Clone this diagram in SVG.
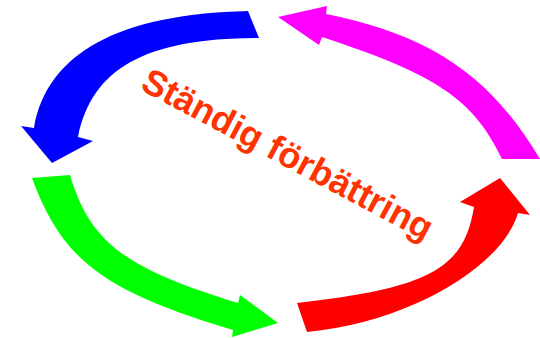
<svg xmlns="http://www.w3.org/2000/svg" width="540" height="338" viewBox="0 0 540 338">
<style>
.arrow{stroke:none}
.label{font-family:"Liberation Sans",Arial,sans-serif;font-weight:bold;font-size:36px;fill:#FF3300}
</style>
<rect width="540" height="338" fill="#FFFFFF"/>
<g id="connectors">
<path id="arrow-blue" class="arrow" fill="#0000FF" d="M248,11 C119,14 47,53 34,128 L21,126 L52,163 L93,141 L78,137 C92,68 146,38 259,38 Z"/>
<path id="arrow-magenta" class="arrow" fill="#FF00FF" d="M278,17 L327,6 L326,14 C430,35 490,75 540,159 L502,159 C474,100 438,75 322,37 L319,45 Z"/>
<path id="arrow-green" class="arrow" fill="#00FF00" d="M32,178 C62,260 103,291 233,330 L232,337 L278,323 L240,295 L238,303 C124,268 90,242 70,175 Z"/>
<path id="arrow-red" class="arrow" fill="#FF0000" d="M307,332 C412,322 503,265 518,213 L530,215 L500,178 L460,202 L474,207 C464,269 429,288 297,303 Z"/>
</g>
<g id="title">
<text class="label" x="282" y="165" text-anchor="middle" transform="rotate(28 282 165)">Ständig förbättring</text>
</g>
</svg>
